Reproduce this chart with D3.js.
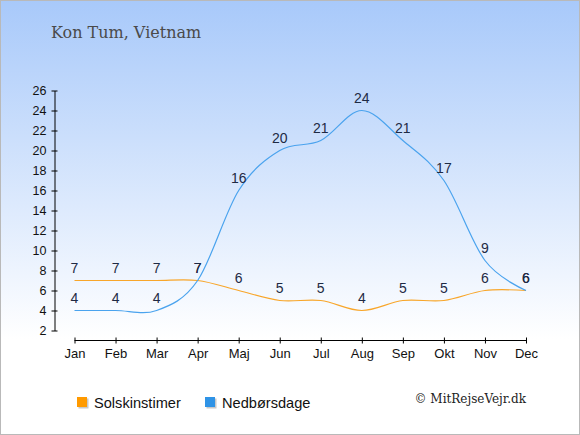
<!DOCTYPE html>
<html>
<head>
<meta charset="utf-8">
<script src="https://cdn.jsdelivr.net/npm/d3@7/dist/d3.min.js"></script>
<style>
  html, body { margin: 0; padding: 0; background: #fff; }
  svg { display: block; }
</style>
</head>
<body>
<div id="chart"></div>
<script>
// data
const months = ['Jan', 'Feb', 'Mar', 'Apr', 'Maj', 'Jun', 'Jul', 'Aug', 'Sep', 'Okt', 'Nov', 'Dec'];
const sunHours = [7, 7, 7, 7, 6, 5, 5, 4, 5, 5, 6, 6];
const rainDays = [4, 4, 4, 7, 16, 20, 21, 24, 21, 17, 9, 6];
const yTicks = [2, 4, 6, 8, 10, 12, 14, 16, 18, 20, 22, 24, 26];
const seriesNames = ['Solskinstimer', 'Nedbørsdage'];

const width = 580;
const height = 435;
const sunColor = '#f8a62a';
const rainColor = '#4aa3ee';

const svg = d3.select('#chart').append('svg')
  .attr('width', width)
  .attr('height', height);

// background gradient
const defs = svg.append('defs');
const grad = defs.append('linearGradient')
  .attr('id', 'bg')
  .attr('x1', 0).attr('y1', 0).attr('x2', 0).attr('y2', 1);
grad.append('stop').attr('offset', '0%').attr('stop-color', '#a8c9fa');
grad.append('stop').attr('offset', '78%').attr('stop-color', '#ffffff');
grad.append('stop').attr('offset', '100%').attr('stop-color', '#ffffff');

svg.append('rect')
  .attr('x', 0.5).attr('y', 0.5)
  .attr('width', width - 1).attr('height', height - 1)
  .attr('fill', 'url(#bg)')
  .attr('stroke', '#b9b9b9');

// title
svg.append('text')
  .attr('x', 51).attr('y', 38)
  .attr('font-family', 'DejaVu Serif')
  .attr('font-size', 16)
  .attr('fill', '#4a4a4a')
  .text('Kon Tum, Vietnam');

// scales
const x = d3.scalePoint()
  .domain(months)
  .range([74.5, 526]);

const y = d3.scaleLinear()
  .domain([2, 26])
  .range([330.5, 90.5]);

// y axis
const yAxis = svg.append('g')
  .attr('transform', 'translate(54.5,0)')
  .call(d3.axisLeft(y).tickValues(yTicks).tickSize(0).tickPadding(8));
yAxis.select('.domain').attr('stroke', '#000');
yAxis.selectAll('.tick line').remove();
yAxis.selectAll('.tick').append('line')
  .attr('x1', -3).attr('x2', 3)
  .attr('stroke', '#000');
yAxis.selectAll('text')
  .attr('font-family', 'Liberation Sans, Arial, sans-serif')
  .attr('font-size', 12.5)
  .attr('fill', '#111');

// x axis
const xAxis = svg.append('g')
  .attr('transform', 'translate(0,340.5)')
  .call(d3.axisBottom(x).tickSize(0).tickPadding(8));
xAxis.select('.domain').attr('stroke', '#000').attr('d', `M${x('Jan')},0H${x('Dec')}`);
xAxis.selectAll('.tick line').remove();
xAxis.selectAll('.tick').append('line')
  .attr('y1', -3).attr('y2', 3)
  .attr('stroke', '#000');
xAxis.selectAll('text')
  .attr('font-family', 'Liberation Sans, Arial, sans-serif')
  .attr('font-size', 13)
  .attr('fill', '#111');

// lines
const line = d3.line()
  .x((d, i) => x(months[i]))
  .y(d => y(d))
  .curve(d3.curveCardinal.tension(0));

svg.append('path')
  .datum(sunHours)
  .attr('d', line)
  .attr('fill', 'none')
  .attr('stroke', sunColor)
  .attr('stroke-width', 1.2);

svg.append('path')
  .datum(rainDays)
  .attr('d', line)
  .attr('fill', 'none')
  .attr('stroke', rainColor)
  .attr('stroke-width', 1.2);

// value labels
function drawLabels(values) {
  svg.append('g').selectAll('text')
    .data(values)
    .enter().append('text')
    .attr('x', (d, i) => x(months[i]))
    .attr('y', d => y(d) - 8)
    .attr('text-anchor', 'middle')
    .attr('font-family', 'Liberation Sans, Arial, sans-serif')
    .attr('font-size', 14)
    .attr('fill', '#1e2a44')
    .text(d => d);
}
drawLabels(sunHours);
drawLabels(rainDays);

// legend
const legend = svg.append('g');
const legendItems = [
  {name: seriesNames[0], color: '#ff9a00', x: 77},
  {name: seriesNames[1], color: '#2f93e6', x: 205}
];
legendItems.forEach(item => {
  legend.append('rect')
    .attr('x', item.x + 1.5).attr('y', 398.5)
    .attr('width', 10).attr('height', 10)
    .attr('fill', '#c8c8c8');
  legend.append('rect')
    .attr('x', item.x).attr('y', 397)
    .attr('width', 10).attr('height', 10)
    .attr('fill', item.color);
  legend.append('text')
    .attr('x', item.x + 17).attr('y', 407.5)
    .attr('font-family', 'Liberation Sans, Arial, sans-serif')
    .attr('font-size', 14.6)
    .attr('fill', '#111')
    .text(item.name);
});

svg.append('text')
  .attr('x', 526).attr('y', 403)
  .attr('text-anchor', 'end')
  .attr('font-family', 'DejaVu Serif')
  .attr('font-size', 12)
  .attr('fill', '#222')
  .text('© MitRejseVejr.dk');
</script>
</body>
</html>
